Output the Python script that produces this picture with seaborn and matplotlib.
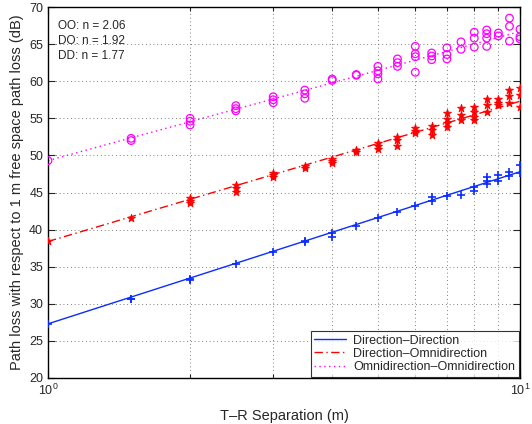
import numpy as np
import pandas as pd
import matplotlib
matplotlib.use("Agg")
import matplotlib.pyplot as plt
import matplotlib.ticker as mticker
import seaborn as sns

# Measured path loss (dB) versus T-R separation (m)
dd_dist = [1, 1.5, 1.5, 2, 2, 2.5, 3, 3.5, 3.5, 4, 4, 4.5, 5, 5.5, 6, 6.5, 6.5,
           7, 7.5, 8, 8, 8.5, 8.5, 8.5, 9, 9, 9.5, 9.5, 10, 10]
dd_loss = [27.3, 30.7, 30.6, 33.4, 33.2, 35.4, 37.0, 38.5, 38.3, 39.5, 39.0, 40.5, 41.6, 42.4, 43.2, 44.4, 43.8,
           44.5, 44.7, 45.8, 45.2, 47.1, 46.6, 46.1, 47.4, 46.5, 47.8, 47.2, 48.7, 47.6]

do_dist = [1, 1.5, 2, 2, 2, 2.5, 2.5, 2.5, 3, 3, 3, 3.5, 3.5, 4, 4, 4, 4.5, 4.5,
           5, 5, 5, 5.5, 5.5, 5.5, 6, 6, 6, 6.5, 6.5, 6.5, 7, 7, 7, 7, 7.5, 7.5, 7.5,
           8, 8, 8, 8, 8.5, 8.5, 8.5, 9, 9, 9, 9.5, 9.5, 9.5, 10, 10, 10]
do_loss = [38.4, 41.6, 44.3, 43.9, 43.6, 46.0, 45.6, 45.1, 47.6, 47.3, 47.1, 48.6, 48.3, 49.5, 49.2, 49.0, 50.7, 50.4,
           51.7, 51.3, 50.9, 52.5, 52.1, 51.2, 53.7, 53.3, 53.0, 54.0, 53.4, 52.8, 55.7, 54.9, 54.3, 53.8, 56.4, 55.5, 54.8,
           56.5, 55.8, 55.2, 54.8, 57.6, 56.8, 55.9, 57.6, 57.1, 56.8, 58.8, 58.0, 57.1, 59.1, 58.1, 56.5]

oo_dist = [1, 1.5, 1.5, 2, 2, 2, 2.5, 2.5, 2.5, 3, 3, 3, 3.5, 3.5, 3.5, 4, 4, 4.5, 4.5,
           5, 5, 5, 5, 5.5, 5.5, 5.5, 6, 6, 6, 6, 6.5, 6.5, 6.5, 7, 7, 7, 7.5, 7.5,
           8, 8, 8, 8.5, 8.5, 8.5, 8.5, 9, 9, 9.5, 9.5, 9.5, 10, 10, 10]
oo_loss = [49.3, 52.3, 52.0, 55.0, 54.6, 54.1, 56.7, 56.3, 56.0, 57.9, 57.5, 57.1, 58.8, 58.3, 57.7, 60.3, 60.1, 60.8, 60.9,
           62.0, 61.4, 61.0, 60.3, 63.0, 62.5, 62.0, 64.7, 63.7, 63.3, 61.2, 63.8, 63.4, 62.9, 64.5, 63.6, 63.0, 65.3, 64.3,
           66.6, 65.8, 64.6, 66.9, 66.4, 65.8, 64.7, 66.5, 66.1, 68.5, 67.4, 65.4, 67.0, 66.0, 65.7]

# least squares fit lines (end points)
fit_dist = [1, 10]
dd_fit = [27.3, 47.8]
do_fit = [38.4, 57.3]
oo_fit = [49.3, 66.7]

labels = ["Direction\u2013Direction", "Direction\u2013Omnidirection", "Omnidirection\u2013Omnidirection"]
exponents = ["OO: n = 2.06", "DO: n = 1.92", "DD: n = 1.77"]

sns.set_style("ticks")
plt.rcParams["font.family"] = ["Liberation Sans", "DejaVu Sans"]

fig = plt.figure(figsize=(5.32, 4.24), dpi=100)
ax = fig.add_axes([48 / 532, 46 / 424, 472 / 532, 371 / 424])

blue, red, mag = "#0a2cff", "#ff0000", "#ff00ff"

sns.lineplot(x=fit_dist, y=dd_fit, ax=ax, color=blue, lw=1.0, label=labels[0])
sns.lineplot(x=fit_dist, y=do_fit, ax=ax, color=red, lw=1.0, ls=(0, (6, 2.5, 1, 2.5)), label=labels[1])
sns.lineplot(x=fit_dist, y=oo_fit, ax=ax, color=mag, lw=1.0, ls=(0, (1, 2.5)), label=labels[2])

sns.scatterplot(x=dd_dist, y=dd_loss, ax=ax, marker="+", color=blue, s=36, linewidth=1.2, zorder=3)
sns.scatterplot(x=do_dist, y=do_loss, ax=ax, marker="*", color=red, edgecolor=red, s=36, linewidth=0.6, zorder=3)
ax.scatter(oo_dist, oo_loss, marker="o", facecolors="none", edgecolors=mag, s=30, linewidths=0.9, zorder=3)

ax.set_xscale("log")
ax.set_xlim(1, 10)
ax.set_ylim(20, 70)
ax.set_yticks(np.arange(20, 71, 5))
ax.xaxis.set_minor_locator(mticker.LogLocator(base=10, subs=np.arange(2, 10)))
ax.xaxis.set_minor_formatter(mticker.NullFormatter())

ax.grid(True, which="major", axis="y", ls=(0, (1, 3.5)), color="#555555", lw=0.6)
ax.grid(True, which="both", axis="x", ls=(0, (1, 3.5)), color="#555555", lw=0.6)

ax.tick_params(which="both", direction="in", top=True, right=True, labelsize=9, width=0.8)
ax.tick_params(which="major", length=5)
ax.tick_params(which="minor", length=3)
for s in ax.spines.values():
    s.set_visible(True)
    s.set_linewidth(1.0)
    s.set_color("black")

ax.set_xlabel("T\u2013R Separation (m)", fontsize=10.5, labelpad=8)
ax.set_ylabel("Path loss with respect to 1 m free space path loss (dB)", fontsize=10.5, labelpad=4)

for i, t in enumerate(exponents):
    ax.text(0.022, 0.965 - i * 0.041, t, transform=ax.transAxes, fontsize=8.5, va="top", ha="left")

leg = ax.legend(loc="lower right", fontsize=9, frameon=True, fancybox=False, borderaxespad=0.1,
                handlelength=2.5, labelspacing=0.1, borderpad=0.3, handletextpad=0.6)
leg.get_frame().set_edgecolor("black")
leg.get_frame().set_linewidth(0.8)

fig.savefig("out.png", dpi=100)
